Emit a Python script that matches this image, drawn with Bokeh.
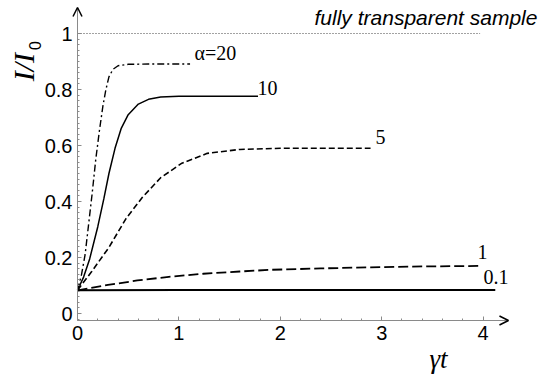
from bokeh.plotting import figure
from bokeh.models import Range1d, FixedTicker, Label, Arrow, OpenHead
from bokeh.embed import file_html
from bokeh.resources import INLINE

# Transmitted intensity I/I0 versus dimensionless time gamma*t for several alpha
t_a20 = [0, 0.04, 0.075, 0.11, 0.145, 0.18, 0.215, 0.25, 0.28, 0.31, 0.35, 0.40, 0.50, 0.70, 1.11]
i_a20 = [0.083, 0.14, 0.21, 0.32, 0.43, 0.55, 0.65, 0.74, 0.80, 0.845, 0.872, 0.885, 0.89, 0.891, 0.891]

t_a10 = [0, 0.06, 0.12, 0.20, 0.26, 0.31, 0.37, 0.43, 0.50, 0.60, 0.70, 0.82, 1.00, 1.78]
i_a10 = [0.083, 0.13, 0.195, 0.31, 0.41, 0.50, 0.59, 0.66, 0.71, 0.748, 0.765, 0.773, 0.776, 0.776]

t_a5 = [0, 0.14, 0.31, 0.48, 0.64, 0.82, 1.03, 1.28, 1.60, 2.00, 2.89]
i_a5 = [0.083, 0.15, 0.236, 0.34, 0.415, 0.485, 0.537, 0.572, 0.586, 0.59, 0.59]

t_a1 = [0, 0.30, 0.59, 0.90, 1.24, 1.60, 1.90, 2.40, 2.89, 3.40, 3.99]
i_a1 = [0.083, 0.102, 0.118, 0.131, 0.142, 0.150, 0.156, 0.161, 0.165, 0.168, 0.170]

t_a01 = [0, 1.0, 2.0, 3.0, 4.12]
i_a01 = [0.083, 0.084, 0.084, 0.084, 0.084]

t_limit = [0, 3.97]
i_limit = [1.0, 1.0]

curve_labels = ["\u03b1=20", "10", "5", "1", "0.1"]
x_ticks = [0, 1, 2, 3, 4]
x_tick_labels = ["0", "1", "2", "3", "4"]
y_ticks = [0, 0.2, 0.4, 0.6, 0.8, 1.0]
y_tick_labels = ["0", "0.2", "0.4", "0.6", "0.8", "1"]

X_AXIS_AT = -0.025   # height where the time axis crosses
X_AXIS_END = 4.25
Y_AXIS_END = 1.093

# the frame spans the whole canvas; axes are pinned inside it
p = figure(width=540, height=375, output_backend="svg", toolbar_location=None,
           x_range=Range1d(-0.7594, 4.566), y_range=Range1d(-0.2214, 1.1179),
           min_border=0)
p.grid.visible = False
p.outline_line_color = None
p.background_fill_color = "white"
p.border_fill_color = "white"

axis_grey = "#8a8a8a"
for ax in (p.xaxis[0], p.yaxis[0]):
    ax.axis_line_color = axis_grey
    ax.axis_line_width = 1
    ax.major_tick_line_color = axis_grey
    ax.minor_tick_line_color = axis_grey
    ax.major_tick_in = 4
    ax.major_tick_out = 0
    ax.minor_tick_in = 2
    ax.minor_tick_out = 0
    ax.major_label_text_font = "Liberation Sans"
    ax.major_label_text_font_size = "20px"
    ax.major_label_text_color = "black"

p.xaxis.fixed_location = X_AXIS_AT
p.xaxis.bounds = (0, X_AXIS_END)
p.xaxis.ticker = FixedTicker(ticks=x_ticks, minor_ticks=[round(0.2 * k, 2) for k in range(21)])
p.xaxis.major_label_overrides = {v: s for v, s in zip(x_ticks, x_tick_labels)}
p.xaxis.major_label_standoff = 5

p.yaxis.fixed_location = 0
p.yaxis.bounds = (X_AXIS_AT, Y_AXIS_END)
p.yaxis.ticker = FixedTicker(ticks=y_ticks, minor_ticks=[round(0.02 * k, 2) for k in range(-1, 51)])
p.yaxis.major_label_overrides = {v: s for v, s in zip(y_ticks, y_tick_labels)}
p.yaxis.major_label_standoff = 5

# axis arrow heads
p.add_layout(Arrow(end=OpenHead(size=9, line_color="black", line_width=1.5),
                   x_start=4.1, y_start=X_AXIS_AT, x_end=X_AXIS_END, y_end=X_AXIS_AT,
                   line_alpha=0))
p.add_layout(Arrow(end=OpenHead(size=9, line_color="black", line_width=1.5),
                   x_start=0, y_start=1.05, x_end=0, y_end=Y_AXIS_END,
                   line_alpha=0))

# reference level and curves
p.line(t_limit, i_limit, line_color="#444444", line_width=1, line_dash="1 2")
p.line(t_a20, i_a20, line_color="black", line_width=1.4, line_dash="7 3 2 3")
p.line(t_a10, i_a10, line_color="black", line_width=1.5)
p.line(t_a5, i_a5, line_color="black", line_width=1.6, line_dash="6 3")
p.line(t_a1, i_a1, line_color="black", line_width=1.8, line_dash="10 4")
p.line(t_a01, i_a01, line_color="black", line_width=2)

# curve annotations
label_pos = [(1.154, 0.929), (1.775, 0.804), (2.94, 0.629), (3.945, 0.221), (4.004, 0.129)]
for txt, (lx, ly) in zip(curve_labels, label_pos):
    p.add_layout(Label(x=lx, y=ly, text=txt, text_font="Liberation Serif",
                       text_font_size="20px", text_baseline="middle",
                       text_align="left", text_color="black"))

p.add_layout(Label(x=4.536, y=1.057, text="fully transparent sample",
                   text_font="Liberation Sans", text_font_style="italic",
                   text_font_size="21px", text_align="right",
                   text_baseline="middle", text_color="black"))

# axis titles
p.add_layout(Label(x=-0.5375, y=0.880, text="I/I", angle=1.5708,
                   text_font="Liberation Serif", text_font_style="italic",
                   text_font_size="30px", text_align="center",
                   text_baseline="middle", text_color="black"))
p.add_layout(Label(x=-0.424, y=0.957, text="0", angle=1.5708,
                   text_font="Liberation Sans", text_font_size="16px",
                   text_align="center", text_baseline="middle",
                   text_color="black"))
p.add_layout(Label(x=3.56, y=-0.161, text="\u03b3t",
                   text_font="Liberation Serif", text_font_style="italic",
                   text_font_size="27px", text_align="center",
                   text_baseline="middle", text_color="black"))

open("out.html", "w").write(file_html(p, INLINE))
